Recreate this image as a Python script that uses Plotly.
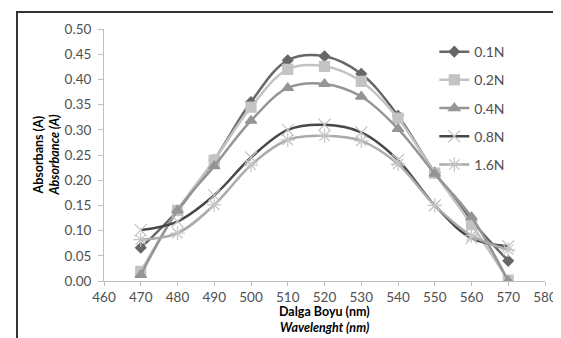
import plotly.graph_objects as go

wavelength = [470, 480, 490, 500, 510, 520, 530, 540, 550, 560, 570]
series_names = ["0.1N", "0.2N", "0.4N", "0.8N", "1.6N"]
abs_01N = [0.066, 0.140, 0.240, 0.355, 0.438, 0.446, 0.411, 0.328, 0.215, 0.120, 0.040]
abs_02N = [0.019, 0.140, 0.240, 0.345, 0.420, 0.426, 0.396, 0.323, 0.214, 0.112, 0.002]
abs_04N = [0.012, 0.140, 0.228, 0.318, 0.383, 0.391, 0.366, 0.302, 0.213, 0.127, 0.000]
abs_08N = [0.101, 0.118, 0.170, 0.245, 0.300, 0.310, 0.295, 0.240, 0.150, 0.085, 0.069]
abs_16N = [0.082, 0.095, 0.151, 0.230, 0.280, 0.288, 0.278, 0.232, 0.150, 0.090, 0.062]
x_ticks = [460, 470, 480, 490, 500, 510, 520, 530, 540, 550, 560, 570, 580]
y_ticks = [0.00, 0.05, 0.10, 0.15, 0.20, 0.25, 0.30, 0.35, 0.40, 0.45, 0.50]

values = [abs_01N, abs_02N, abs_04N, abs_08N, abs_16N]
line_colors = ["#676767", "#c3c3c3", "#959595", "#474747", "#aaaaaa"]
marker_colors = ["#676767", "#c3c3c3", "#959595", "#c4c4c4", "#c4c4c4"]
symbols = ["diamond", "square", "triangle-up", "x-thin-open", "asterisk-open"]
sizes = [8, 10, 10, 12, 12]

FONT = "Lato, 'Open Sans', sans-serif"

fig = go.Figure()
for name, vals, c, mc, s, sz in zip(series_names, values, line_colors, marker_colors, symbols, sizes):
    fig.add_trace(go.Scatter(
        x=wavelength, y=vals, name=name, mode="lines+markers",
        legendgroup=name,
        line=dict(color=c, width=2.5, shape="spline", smoothing=1.0),
        marker=dict(symbol=s, size=sz, color=mc, line=dict(color=mc, width=1.2)),
    ))

axis_color = "#bfbfbf"
fig.update_layout(
    width=561, height=338,
    margin=dict(l=96, r=24, t=21, b=65),
    paper_bgcolor="white", plot_bgcolor="white",
    font=dict(family=FONT, size=13, color="#505050"),
    showlegend=True,
    legend=dict(x=0.749, y=0.972, xanchor="left", yanchor="top",
                bgcolor="rgba(0,0,0,0)", font=dict(size=14, color="#505050"),
                tracegroupgap=7, itemwidth=30),
    xaxis=dict(range=[460, 580], tickvals=x_ticks, ticktext=[str(v) for v in x_ticks],
               showgrid=False, zeroline=False, showline=True, linecolor=axis_color,
               linewidth=1, ticks="outside", tickcolor=axis_color, ticklen=4,
               ticklabelstandoff=0, tickfont=dict(size=13.5)),
    yaxis=dict(range=[0, 0.5], tickvals=y_ticks, ticktext=[f"{v:.2f}" for v in y_ticks],
               showgrid=False, zeroline=False, showline=True, linecolor=axis_color,
               linewidth=1, ticks="outside", tickcolor=axis_color, ticklen=5,
               ticklabelstandoff=4, tickfont=dict(size=13.5)),
    annotations=[
        dict(text="<b>Absorbans (A)</b>", xref="paper", yref="paper",
             x=(20 - 96) / 441, y=0.5, textangle=-90, showarrow=False,
             font=dict(size=12.5, color="#000000")),
        dict(text="<b><i>Absorbance (A)</i></b>", xref="paper", yref="paper",
             x=(36 - 96) / 441, y=0.5, textangle=-90, showarrow=False,
             font=dict(size=12.5, color="#000000")),
        dict(text="<b>Dalga Boyu (nm)</b>", xref="paper", yref="paper",
             x=0.5, y=(273 - 313) / 252, showarrow=False,
             font=dict(size=12.5, color="#000000")),
        dict(text="<b><i>Wavelenght (nm)</i></b>", xref="paper", yref="paper",
             x=0.5, y=(273 - 329) / 252, showarrow=False,
             font=dict(size=12.5, color="#000000")),
    ],
    shapes=[
        dict(type="line", xref="paper", yref="paper",
             x0=(9 - 96) / 441, x1=(9 - 96) / 441, y0=(273 - 3) / 252, y1=(273 - 340) / 252,
             line=dict(color="#333333", width=2)),
        dict(type="line", xref="paper", yref="paper",
             x0=(8 - 96) / 441, x1=(563 - 96) / 441, y0=(273 - 4) / 252, y1=(273 - 4) / 252,
             line=dict(color="#333333", width=2)),
    ],
)

fig.write_html("out.html")
